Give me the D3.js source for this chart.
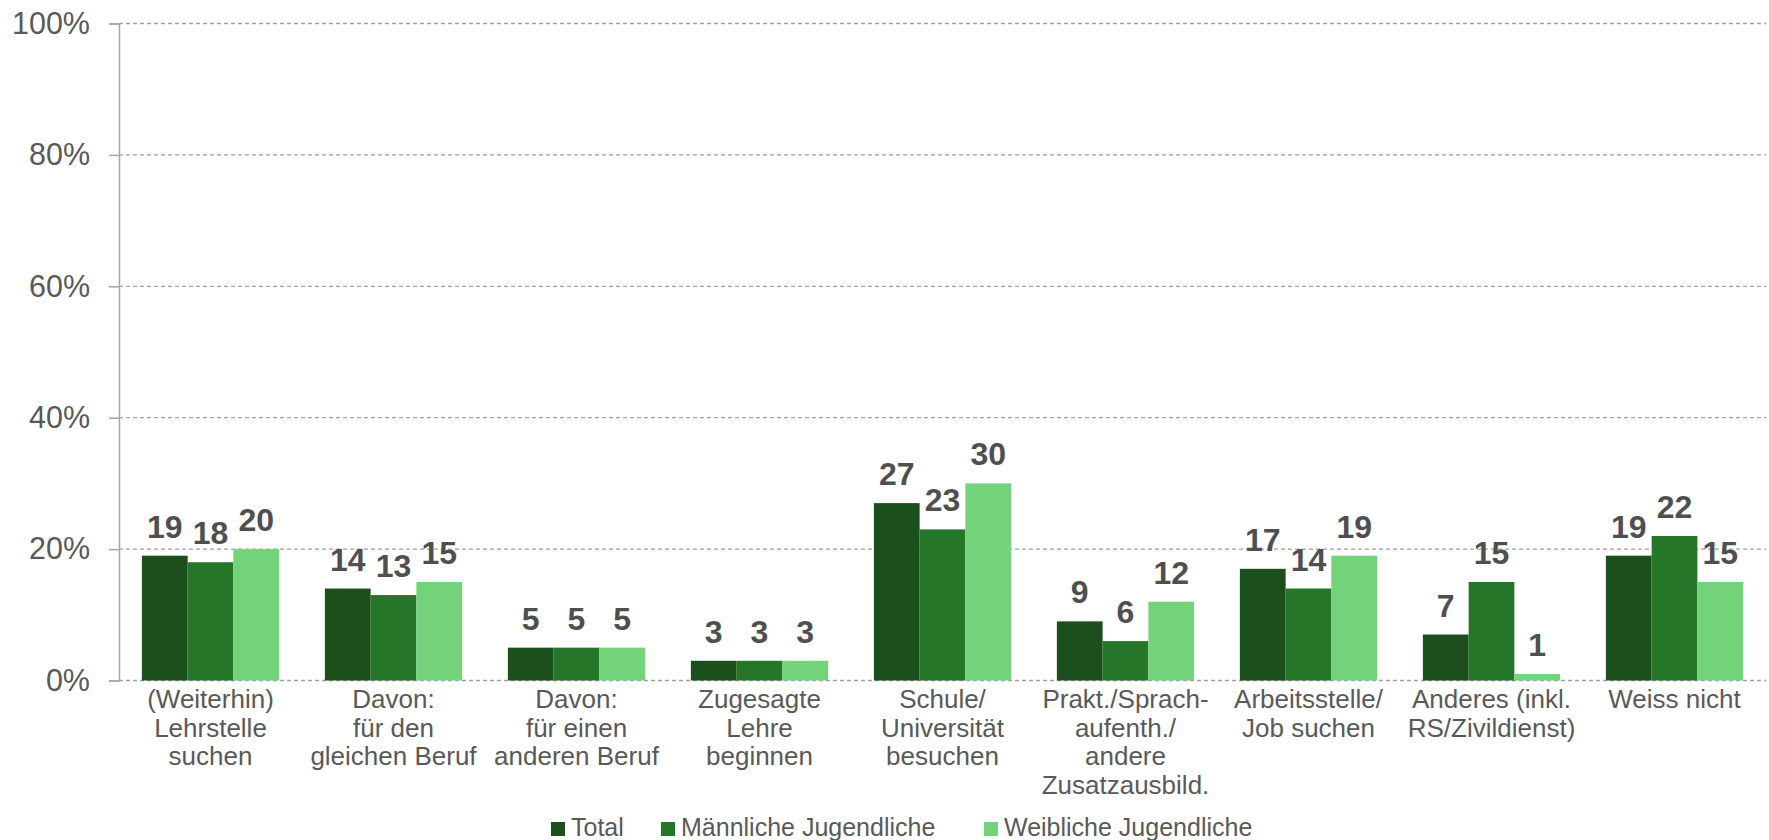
<!DOCTYPE html>
<html><head><meta charset="utf-8">
<script src="https://cdn.jsdelivr.net/npm/d3@7"></script>
<style>body{margin:0;background:#fff}svg{display:block}text{font-family:"Liberation Sans",Arial,sans-serif}</style>
</head><body>
<svg id="c" width="1769" height="840"></svg>
<script>
const categories = [
  ["(Weiterhin)","Lehrstelle","suchen"],
  ["Davon:","für den","gleichen Beruf"],
  ["Davon:","für einen","anderen Beruf"],
  ["Zugesagte","Lehre","beginnen"],
  ["Schule/","Universität","besuchen"],
  ["Prakt./Sprach-","aufenth./","andere","Zusatzausbild."],
  ["Arbeitsstelle/","Job suchen"],
  ["Anderes (inkl.","RS/Zivildienst)"],
  ["Weiss nicht"]
];
const seriesNames = ["Total","Männliche Jugendliche","Weibliche Jugendliche"];
const total = [19,14,5,3,27,9,17,7,19];
const maennlich = [18,13,5,3,23,6,14,15,22];
const weiblich = [20,15,5,3,30,12,19,1,15];
const yTicks = [0,20,40,60,80,100];
const colors = ["#1b4f1b","#26762a","#73d37a"];

const series = [total, maennlich, weiblich];
const svg = d3.select("#c");
const mLeft = 119, mRight = 1766, mTop = 23.5, mBottom = 680.5;
const x = d3.scaleBand().domain(d3.range(categories.length)).range([mLeft,mRight]).paddingInner(0.25).paddingOuter(0.125);
const xs = d3.scaleBand().domain(d3.range(3)).range([0,x.bandwidth()]);
const y = d3.scaleLinear().domain([0,100]).range([mBottom,mTop]);

// gridlines
svg.append("g").selectAll("line").data(yTicks).join("line")
  .attr("x1",mLeft).attr("x2",mRight).attr("y1",d=>y(d)).attr("y2",d=>y(d))
  .attr("stroke","#a0a0a0").attr("stroke-width",1.3).attr("stroke-dasharray","4,3");

// y axis
const ya = svg.append("g").attr("transform",`translate(${mLeft},0)`)
  .call(d3.axisLeft(y).tickValues(yTicks).tickFormat(d=>d+"%").tickSize(10).tickPadding(19));
ya.select(".domain").attr("stroke","#a6a6a6").attr("stroke-width",1.5);
ya.selectAll(".tick line").attr("stroke","#a6a6a6").attr("stroke-width",1.5);
ya.selectAll(".tick text").attr("fill","#595959").attr("font-size",30.5).attr("font-family","Liberation Sans, Arial, sans-serif");

// bars
const g = svg.append("g");
series.forEach((vals,si)=>{
  g.append("g").selectAll("rect").data(vals).join("rect")
    .attr("x",(d,i)=>x(i)+xs(si)).attr("width",xs.bandwidth())
    .attr("y",d=>y(d)).attr("height",d=>mBottom-y(d))
    .attr("fill",colors[si]);
  g.append("g").selectAll("text").data(vals).join("text")
    .attr("x",(d,i)=>x(i)+xs(si)+xs.bandwidth()/2)
    .attr("y",d=>y(d)-18)
    .attr("text-anchor","middle").attr("font-size",32).attr("font-weight","bold")
    .attr("fill","#4f4f4f").text(d=>d);
});

// category labels
const cl = svg.append("g");
categories.forEach((lines,i)=>{
  const t = cl.append("text").attr("text-anchor","middle").attr("fill","#595959").attr("font-size",26);
  lines.forEach((ln,j)=>{
    t.append("tspan").attr("x",x(i)+x.bandwidth()/2).attr("y",708+j*28.6).text(ln);
  });
});

// legend
const legendX = [551,661,984];
const lg = svg.append("g");
seriesNames.forEach((n,i)=>{
  lg.append("rect").attr("x",legendX[i]).attr("y",822).attr("width",14).attr("height",14).attr("fill",colors[i]);
  lg.append("text").attr("x",legendX[i]+20).attr("y",836).attr("font-size",25).attr("fill","#595959").text(n);
});
</script>
</body></html>
